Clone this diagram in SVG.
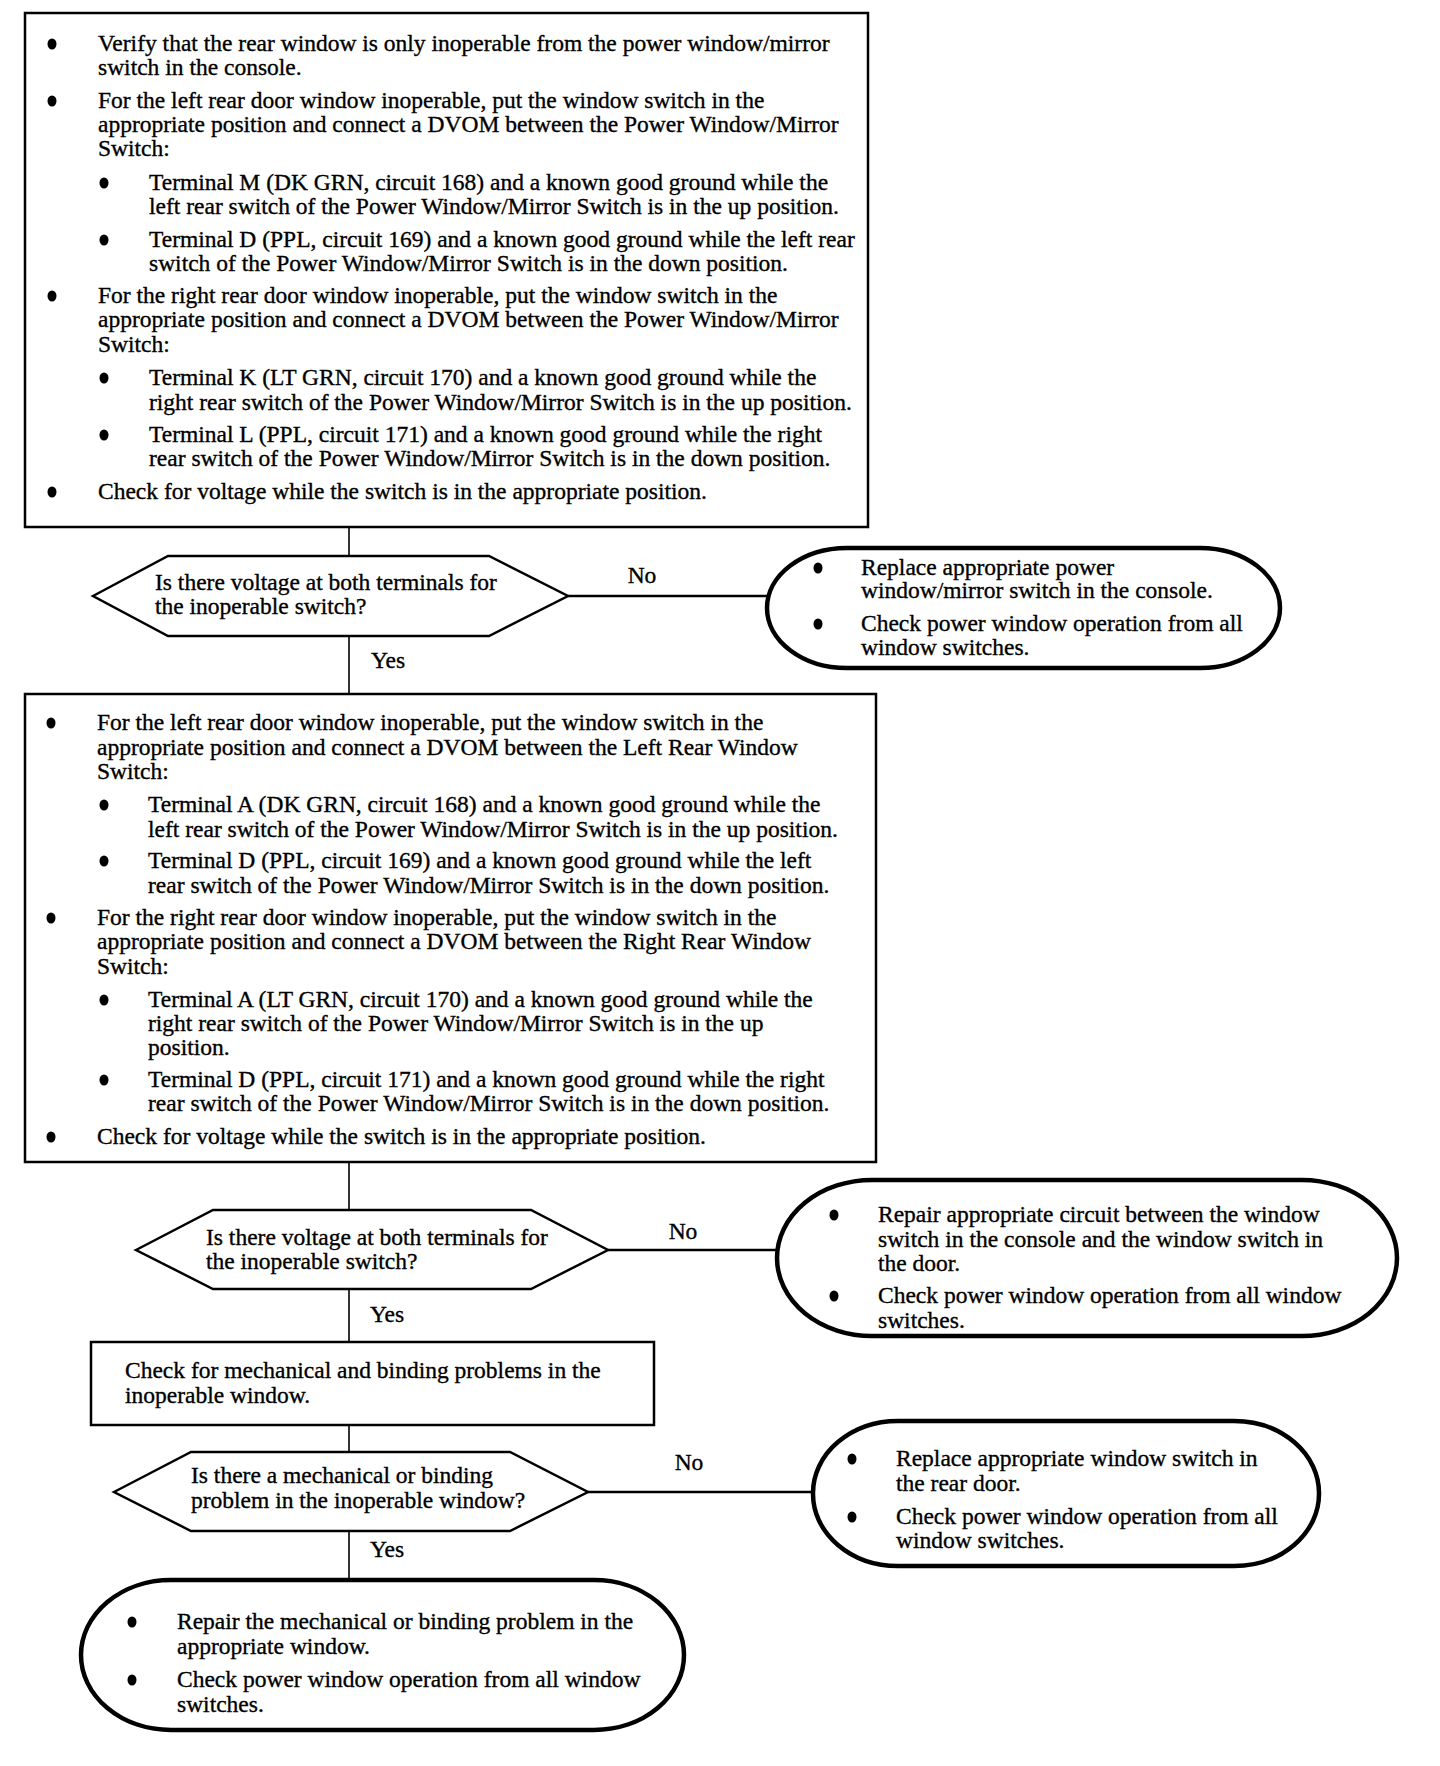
<svg xmlns="http://www.w3.org/2000/svg" width="1440" height="1766" viewBox="0 0 1440 1766">
<style>
.t{font-family:"Liberation Serif","Times New Roman",serif;font-size:23.5px;fill:#000;stroke:#000;stroke-width:0.35}
.box{fill:#fff;stroke:#000;stroke-width:2.5}
.hex{fill:#fff;stroke:#000;stroke-width:2.5}
.oval{fill:#fff;stroke:#000;stroke-width:4.5}
.ln{stroke:#000;stroke-width:1.6;fill:none}
.no{stroke:#000;stroke-width:2.5;fill:none}
.b{fill:#000}
</style>
<defs>
<ellipse id="dot" cx="0" cy="0" rx="4.5" ry="5.5" class="b"/>
</defs>
<rect width="1440" height="1766" fill="#fff"/>
<g id="connectors">
<line class="ln" x1="349" y1="527" x2="349" y2="556"/>
<line class="no" x1="568" y1="596" x2="767" y2="596"/>
<line class="ln" x1="349" y1="636" x2="349" y2="694"/>
<line class="ln" x1="349" y1="1162" x2="349" y2="1210"/>
<line class="no" x1="608" y1="1250" x2="777" y2="1250"/>
<line class="ln" x1="349" y1="1289" x2="349" y2="1342"/>
<line class="ln" x1="349" y1="1425" x2="349" y2="1452"/>
<line class="no" x1="588" y1="1492" x2="813" y2="1492"/>
<line class="ln" x1="349" y1="1531" x2="349" y2="1580"/>
<text class="t" x="642" y="583" text-anchor="middle">No</text>
<text class="t" x="388" y="668" text-anchor="middle">Yes</text>
<text class="t" x="683" y="1239" text-anchor="middle">No</text>
<text class="t" x="387" y="1322" text-anchor="middle">Yes</text>
<text class="t" x="689" y="1470" text-anchor="middle">No</text>
<text class="t" x="387" y="1557" text-anchor="middle">Yes</text>
</g>
<g id="box1">
<rect class="box" x="25" y="13" width="843" height="514"/>
<use href="#dot" x="52" y="44"/>
<use href="#dot" x="52" y="101"/>
<use href="#dot" x="104" y="183"/>
<use href="#dot" x="104" y="240"/>
<use href="#dot" x="52" y="296"/>
<use href="#dot" x="104" y="378"/>
<use href="#dot" x="104" y="435"/>
<use href="#dot" x="52" y="492"/>
<text class="t">
<tspan x="98" y="51">Verify that the rear window is only inoperable from the power window/mirror</tspan>
<tspan x="98" y="75">switch in the console.</tspan>
<tspan x="98" y="108">For the left rear door window inoperable, put the window switch in the</tspan>
<tspan x="98" y="132">appropriate position and connect a DVOM between the Power Window/Mirror</tspan>
<tspan x="98" y="156">Switch:</tspan>
<tspan x="149" y="190">Terminal M (DK GRN, circuit 168) and a known good ground while the</tspan>
<tspan x="149" y="214">left rear switch of the Power Window/Mirror Switch is in the up position.</tspan>
<tspan x="149" y="247">Terminal D (PPL, circuit 169) and a known good ground while the left rear</tspan>
<tspan x="149" y="271">switch of the Power Window/Mirror Switch is in the down position.</tspan>
<tspan x="98" y="303">For the right rear door window inoperable, put the window switch in the</tspan>
<tspan x="98" y="327">appropriate position and connect a DVOM between the Power Window/Mirror</tspan>
<tspan x="98" y="352">Switch:</tspan>
<tspan x="149" y="385">Terminal K (LT GRN, circuit 170) and a known good ground while the</tspan>
<tspan x="149" y="410">right rear switch of the Power Window/Mirror Switch is in the up position.</tspan>
<tspan x="149" y="442">Terminal L (PPL, circuit 171) and a known good ground while the right</tspan>
<tspan x="149" y="466">rear switch of the Power Window/Mirror Switch is in the down position.</tspan>
<tspan x="98" y="499">Check for voltage while the switch is in the appropriate position.</tspan>
</text>
</g>
<g id="decision1">
<polygon class="hex" points="93,596 168,556 489,556 568,596 489,636 168,636"/>
<text class="t"><tspan x="155" y="590">Is there voltage at both terminals for</tspan><tspan x="155" y="614">the inoperable switch?</tspan></text>
</g>
<g id="result1">
<rect class="oval" x="767" y="548" width="513" height="120" rx="80" ry="60"/>
<use href="#dot" x="818" y="568"/>
<use href="#dot" x="818" y="624"/>
<text class="t"><tspan x="861" y="575">Replace appropriate power</tspan><tspan x="861" y="598">window/mirror switch in the console.</tspan><tspan x="861" y="631">Check power window operation from all</tspan><tspan x="861" y="655">window switches.</tspan></text>
</g>
<g id="box2">
<rect class="box" x="25" y="694" width="851" height="468"/>
<use href="#dot" x="51" y="723"/>
<use href="#dot" x="104" y="805"/>
<use href="#dot" x="104" y="861"/>
<use href="#dot" x="51" y="918"/>
<use href="#dot" x="104" y="1000"/>
<use href="#dot" x="104" y="1080"/>
<use href="#dot" x="51" y="1137"/>
<text class="t">
<tspan x="97" y="730">For the left rear door window inoperable, put the window switch in the</tspan>
<tspan x="97" y="755">appropriate position and connect a DVOM between the Left Rear Window</tspan>
<tspan x="97" y="779">Switch:</tspan>
<tspan x="148" y="812">Terminal A (DK GRN, circuit 168) and a known good ground while the</tspan>
<tspan x="148" y="837">left rear switch of the Power Window/Mirror Switch is in the up position.</tspan>
<tspan x="148" y="868">Terminal D (PPL, circuit 169) and a known good ground while the left</tspan>
<tspan x="148" y="893">rear switch of the Power Window/Mirror Switch is in the down position.</tspan>
<tspan x="97" y="925">For the right rear door window inoperable, put the window switch in the</tspan>
<tspan x="97" y="949">appropriate position and connect a DVOM between the Right Rear Window</tspan>
<tspan x="97" y="974">Switch:</tspan>
<tspan x="148" y="1007">Terminal A (LT GRN, circuit 170) and a known good ground while the</tspan>
<tspan x="148" y="1031">right rear switch of the Power Window/Mirror Switch is in the up</tspan>
<tspan x="148" y="1055">position.</tspan>
<tspan x="148" y="1087">Terminal D (PPL, circuit 171) and a known good ground while the right</tspan>
<tspan x="148" y="1111">rear switch of the Power Window/Mirror Switch is in the down position.</tspan>
<tspan x="97" y="1144">Check for voltage while the switch is in the appropriate position.</tspan>
</text>
</g>
<g id="decision2">
<polygon class="hex" points="136,1250 213,1210 531,1210 608,1250 531,1289 213,1289"/>
<text class="t"><tspan x="206" y="1245">Is there voltage at both terminals for</tspan><tspan x="206" y="1269">the inoperable switch?</tspan></text>
</g>
<g id="result2">
<rect class="oval" x="777" y="1180" width="620" height="156" rx="95" ry="78"/>
<use href="#dot" x="834" y="1215"/>
<use href="#dot" x="834" y="1296"/>
<text class="t"><tspan x="878" y="1222">Repair appropriate circuit between the window</tspan><tspan x="878" y="1247">switch in the console and the window switch in</tspan><tspan x="878" y="1271">the door.</tspan><tspan x="878" y="1303">Check power window operation from all window</tspan><tspan x="878" y="1328">switches.</tspan></text>
</g>
<g id="check">
<rect class="box" x="91" y="1342" width="563" height="83"/>
<text class="t"><tspan x="125" y="1378">Check for mechanical and binding problems in the</tspan><tspan x="125" y="1403">inoperable window.</tspan></text>
</g>
<g id="decision3">
<polygon class="hex" points="114,1492 191,1452 510,1452 588,1492 510,1531 191,1531"/>
<text class="t"><tspan x="191" y="1483">Is there a mechanical or binding</tspan><tspan x="191" y="1508">problem in the inoperable window?</tspan></text>
</g>
<g id="result3">
<rect class="oval" x="813" y="1421" width="506" height="145" rx="85" ry="72"/>
<use href="#dot" x="852" y="1459"/>
<use href="#dot" x="852" y="1517"/>
<text class="t"><tspan x="896" y="1466">Replace appropriate window switch in</tspan><tspan x="896" y="1491">the rear door.</tspan><tspan x="896" y="1524">Check power window operation from all</tspan><tspan x="896" y="1548">window switches.</tspan></text>
</g>
<g id="result4">
<rect class="oval" x="81" y="1580" width="603" height="150" rx="90" ry="75"/>
<use href="#dot" x="132" y="1622"/>
<use href="#dot" x="132" y="1680"/>
<text class="t"><tspan x="177" y="1629">Repair the mechanical or binding problem in the</tspan><tspan x="177" y="1654">appropriate window.</tspan><tspan x="177" y="1687">Check power window operation from all window</tspan><tspan x="177" y="1712">switches.</tspan></text>
</g>
</svg>
